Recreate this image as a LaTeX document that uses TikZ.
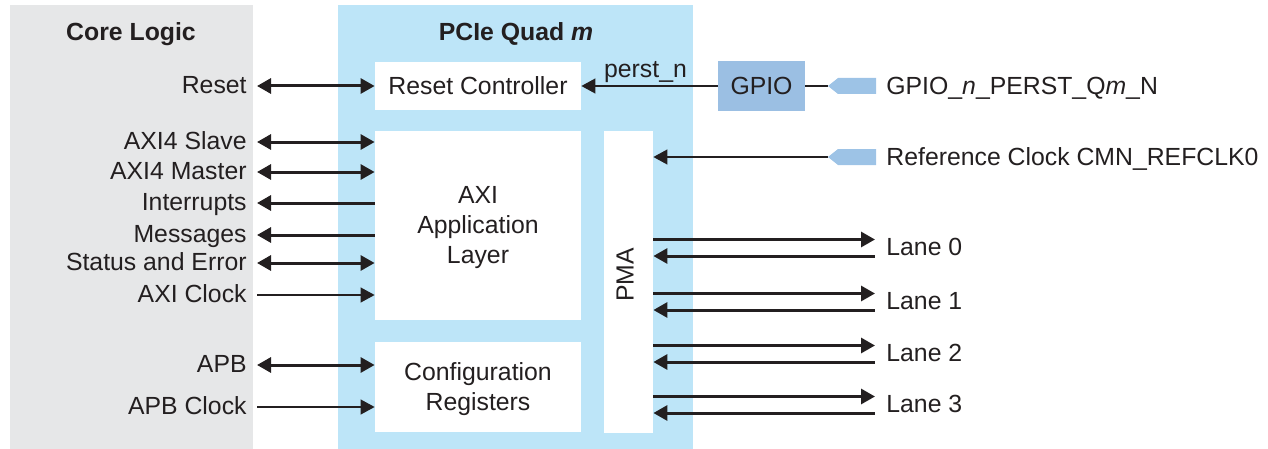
\documentclass[tikz,border=0pt]{standalone}
\usepackage{fontspec}
\setmainfont{Liberation Sans}
\usetikzlibrary{arrows.meta,positioning}
\definecolor{coregray}{HTML}{E6E7E8}
\definecolor{quadblue}{HTML}{BDE5F8}
\definecolor{gpioblue}{HTML}{9BBFE3}
\definecolor{pinblue}{HTML}{9DC3E6}
\definecolor{ink}{HTML}{231F20}
\begin{document}
\begin{tikzpicture}[x=0.5pt,y=-0.5pt,
		font=\fontsize{12.4}{15}\selectfont, text=ink,
		>={Triangle[length=7pt,width=7.5pt]},
		blk/.style={fill=white,inner sep=0pt,align=center},
		area/.style={inner sep=0pt,minimum height=222pt},
		title/.style={font=\fontsize{12.4}{15}\selectfont\bfseries},
		llbl/.style={anchor=east,inner xsep=5pt,text height=0.72em,text depth=0pt},
		rlbl/.style={anchor=west,inner xsep=5.5pt,text height=0.72em,text depth=0pt},
		thk/.style={draw=ink,line width=1.5pt},
		thn/.style={draw=ink,line width=0.6pt}]
	\useasboundingbox (0,0) rectangle (1268,449);
	% the two regions
	\node[area,fill=coregray,minimum width=121.5pt] (core) at (131.5,227) {};
	\node[area,fill=quadblue,minimum width=177.5pt] (quad) at (515.5,227) {};
	\node[title] (coret) at (131,34) {Core Logic};
	\node[title] (quadt) at (516,34) {PCIe Quad \textit{m}};
	% blocks of the quad
	\node[blk,minimum width=103pt,minimum height=24pt] (rc) at (478,86) {Reset Controller};
	\node[blk,minimum width=103pt,minimum height=94.5pt] (axi) at (478,225.5) {};
	\node[align=center,inner sep=0pt] (axit) at (478,228) {AXI\\Application\\Layer};
	\node[blk,minimum width=103pt,minimum height=45pt] (cfg) at (478,387) {};
	\node[align=center,inner sep=0pt] (cfgt) at (478,389) {Configuration\\Registers};
	\node[blk,minimum width=24.5pt,minimum height=151pt] (pma) at (628.5,282) {};
	\node[rotate=90,inner sep=0pt] (pmat) at (625,275) {PMA};
	\node[fill=gpioblue,inner sep=0pt,minimum width=43.5pt,minimum height=25pt] (gpio) at (761.5,86) {GPIO};
	% pins
	\foreach \n/\y in {gp/86,rf/157}{
		\fill[pinblue] (828,\y) -- ++(10,-8) -- ++(38,0) -- ++(0,16) -- ++(-38,0) -- cycle;
		\coordinate (pin\n) at (828,\y);
	}
	\node[rlbl] (gpion) at (875,87) {GPIO\_\textit{n}\_PERST\_Q\textit{m}\_N};
	\node[rlbl] (refclk) at (875,158) {Reference Clock CMN\_REFCLK0};
	\draw[thn] (gpio.east) -- (pingp);
	\draw[thn,->] (gpio.west) -- node[above=1.5pt,inner sep=0pt,xshift=-2pt] {perst\_n} (rc.east);
	\draw[thn,->] (pinrf) -- (pinrf -| pma.east);
	% core logic signals
	\foreach \n/\y/\t in {rst/86/Reset,slv/142/AXI4 Slave,mst/172/AXI4 Master,irq/203/Interrupts,
			msg/235/Messages,sts/263/Status and Error,aclk/295/AXI Clock,apb/365/APB,pclk/407/APB Clock}
		\node[llbl] (\n) at (257,\y) {\t};
	\draw[thk,<->] (rst.east) -- (rst.east -| rc.west);
	\draw[thk,<->] (slv.east) -- (slv.east -| axi.west);
	\draw[thk,<->] (mst.east) -- (mst.east -| axi.west);
	\draw[thk,<-] (irq.east) -- (irq.east -| axi.west);
	\draw[thk,<-] (msg.east) -- (msg.east -| axi.west);
	\draw[thk,<->] (sts.east) -- (sts.east -| axi.west);
	\draw[thn,->] (aclk.east) -- (aclk.east -| axi.west);
	\draw[thk,<->] (apb.east) -- (apb.east -| cfg.west);
	\draw[thn,->] (pclk.east) -- (pclk.east -| cfg.west);
	% lanes
	\foreach \i/\y in {0/248,1/302,2/354,3/405}{
		\node[rlbl] (lane\i) at (875,\y) {Lane \i};
		\draw[thk,->] (pma.east |- 0,\y-8.5) -- (lane\i.west |- 0,\y-8.5);
		\draw[thk,<-] (pma.east |- 0,\y+8) -- (lane\i.west |- 0,\y+8);
	}
\end{tikzpicture}
\end{document}
